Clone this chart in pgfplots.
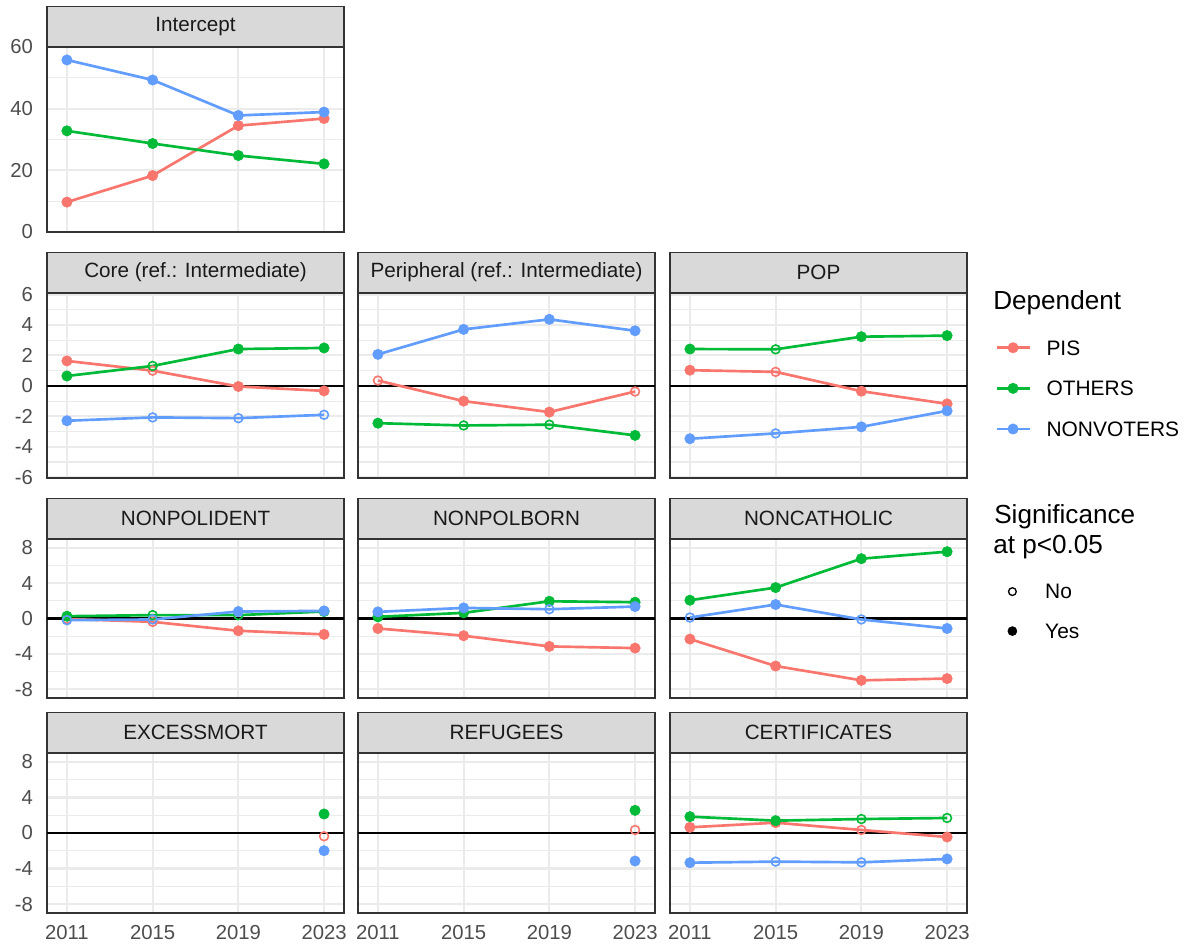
\documentclass[border=0pt]{standalone}
\usepackage{fontspec}
\setmainfont{Liberation Sans}
\usepackage{pgfplots}
\usepackage{pgfplotstable}
\pgfplotsset{compat=1.18}

\definecolor{pis}{HTML}{F8766D}
\definecolor{oth}{HTML}{00BA38}
\definecolor{nv}{HTML}{619CFF}
\definecolor{grey10}{HTML}{1A1A1A}
\definecolor{grey20}{HTML}{333333}
\definecolor{grey30}{HTML}{4D4D4D}
\definecolor{grey85}{HTML}{D9D9D9}
\definecolor{grey92}{HTML}{EBEBEB}

\newcommand{\ticfont}{\fontsize{15.2pt}{18pt}\selectfont}
\newcommand{\stripfont}{\fontsize{15.5pt}{18pt}\selectfont}
\newcommand{\legfont}{\fontsize{15.7pt}{18pt}\selectfont}
\newcommand{\legtitlefont}{\fontsize{19.6pt}{22pt}\selectfont}

% Coefficients by year; Y/N = significant at p<0.05
\pgfplotstableread{
year pis  ps oth  os nv   ns
2011 9.7  Y  32.8 Y  55.8 Y
2015 18.3 Y  28.7 Y  49.3 Y
2019 34.5 Y  24.8 Y  37.8 Y
2023 36.8 Y  22.1 Y  38.9 Y
}\tIntercept
\pgfplotstableread{
year pis   ps oth  os nv    ns
2011 1.64  Y  0.65 Y  -2.29 Y
2015 1.00  N  1.31 N  -2.07 N
2019 -0.04 Y  2.42 Y  -2.12 N
2023 -0.33 Y  2.49 Y  -1.90 N
}\tCore
\pgfplotstableread{
year pis   ps oth   os nv   ns
2011 0.35  N  -2.45 Y  2.07 Y
2015 -1.00 Y  -2.60 N  3.71 Y
2019 -1.72 Y  -2.55 N  4.37 Y
2023 -0.37 N  -3.25 Y  3.62 Y
}\tPeripheral
\pgfplotstableread{
year pis   ps oth  os nv    ns
2011 1.03  Y  2.42 Y  -3.47 Y
2015 0.92  N  2.40 N  -3.12 N
2019 -0.35 Y  3.23 Y  -2.69 Y
2023 -1.18 Y  3.30 Y  -1.64 Y
}\tPop
\pgfplotstableread{
year pis   ps oth  os nv    ns
2011 -0.05 N  0.26 Y  -0.19 N
2015 -0.38 N  0.38 N  -0.11 N
2019 -1.39 Y  0.38 N  0.79  Y
2023 -1.80 Y  0.79 Y  0.86  Y
}\tNonpolident
\pgfplotstableread{
year pis   ps oth  os nv   ns
2011 -1.13 Y  0.19 Y  0.75 Y
2015 -1.95 Y  0.64 Y  1.20 Y
2019 -3.16 Y  1.95 Y  1.05 N
2023 -3.35 Y  1.84 Y  1.35 Y
}\tNonpolborn
\pgfplotstableread{
year pis   ps oth  os nv    ns
2011 -2.33 Y  2.07 Y  0.11  N
2015 -5.38 Y  3.50 Y  1.58  Y
2019 -7.00 Y  6.77 Y  -0.11 N
2023 -6.80 Y  7.56 Y  -1.13 Y
}\tNoncatholic
\pgfplotstableread{
year pis   ps oth  os nv    ns
2023 -0.37 N  2.14 Y  -1.99 Y
}\tExcessmort
\pgfplotstableread{
year pis  ps oth  os nv    ns
2023 0.34 N  2.55 Y  -3.15 Y
}\tRefugees
\pgfplotstableread{
year pis   ps oth  os nv    ns
2011 0.64  Y  1.84 Y  -3.34 Y
2015 1.16  Y  1.39 Y  -3.22 N
2019 0.34  N  1.57 N  -3.30 N
2023 -0.45 Y  1.69 N  -2.92 Y
}\tCertificates

\pgfplotsset{
  panel/.style={
    scale only axis, width=222.75pt, anchor=south west,
    xmin=2010.07, xmax=2023.93,
    xtick={2011,2015,2019,2023}, xticklabels={},
    xmajorgrids=true, ymajorgrids=true, yminorgrids=true,
    major grid style={draw=grey92, line width=1.6pt},
    minor grid style={draw=grey92, line width=0.8pt},
    major tick length=0pt, minor tick length=0pt,
    tick style={draw=none},
    axis line style={draw=grey20, line width=1pt},
    ticklabel style={font=\ticfont, text=grey30, inner sep=0pt},
    yticklabel style={xshift=-10.3pt},
    xticklabel style={yshift=-9pt},
    every axis title shift=0pt,
    title style={at={(0.5,1)}, anchor=south, yshift=0pt,
      draw=grey20, line width=1pt, fill=grey85,
      minimum width=222.75pt, minimum height=30pt, inner sep=0pt,
      font=\stripfont, text=grey10},
  },
  zeroline/.style={
    extra y ticks={0}, extra y tick labels={},
    extra y tick style={grid=major, major grid style={draw=black, line width=1.6pt}},
  },
  rowtwo/.style={panel, zeroline, height=138.75pt, ymin=-6.05, ymax=6.1,
    ytick={-6,-4,-2,0,2,4,6}, minor ytick={-5,-3,-1,1,3,5}},
  rowlow/.style={panel, zeroline, ymin=-9, ymax=9,
    ytick={-8,-4,0,4,8}, minor ytick={-6,-2,2,6}},
  serline/.style={color=#1, line width=2pt, no marks, forget plot},
  sermark/.style={only marks, forget plot, mark size=3.9pt,
    scatter, scatter src=explicit symbolic,
    scatter/classes={
      Y={mark=*, draw=#1, fill=#1, line width=0.4pt, mark size=3.9pt},
      N={mark=o, draw=#1, line width=1.2pt, mark size=3.3pt}}},
  keylegend/.style={
    legend cell align=left,
    legend image code/.code={
      \path (0pt,0pt) (36.5pt,0pt);
      \draw[mark repeat=2, mark phase=2] plot coordinates {(0pt,0pt) (12.4pt,0pt) (24.75pt,0pt)};
    },
    legend style={draw=none, fill=none, inner sep=0pt, anchor=north west,
      font=\legfont, text=black, nodes={inner sep=0pt, text depth=0pt}},
  },
}

\newcommand{\drawseries}[1]{%
  \addplot[serline=pis] table[x=year,y=pis]{#1};
  \addplot[serline=oth] table[x=year,y=oth]{#1};
  \addplot[serline=nv] table[x=year,y=nv]{#1};
  \addplot[sermark=pis] table[x=year,y=pis,meta=ps]{#1};
  \addplot[sermark=oth] table[x=year,y=oth,meta=os]{#1};
  \addplot[sermark=nv] table[x=year,y=nv,meta=ns]{#1};
}

\begin{document}
\begin{tikzpicture}
\path[use as bounding box] (0pt,0pt) rectangle (891.75pt,-708pt);

% Row 1
\begin{axis}[panel, at={(35.25pt,-174pt)}, height=138.75pt, ymin=0, ymax=60,
  ytick={0,20,40,60}, yticklabels={0,20,40,60}, minor ytick={10,30,50},
  title={Intercept}]
\drawseries{\tIntercept}
\end{axis}

% Row 2
\begin{axis}[rowtwo, at={(35.25pt,-358.5pt)}, yticklabels={-6,-4,-2,0,2,4,6},
  title={Core (ref.: Intermediate)}]
\drawseries{\tCore}
\end{axis}
\begin{axis}[rowtwo, at={(268.5pt,-358.5pt)}, yticklabels={},
  title={Peripheral (ref.: Intermediate)}]
\drawseries{\tPeripheral}
\end{axis}
\begin{axis}[rowtwo, at={(502.5pt,-358.5pt)}, yticklabels={}, title={POP},
  keylegend, legend style={at={(1.094,0.745)}, row sep=19.5pt}]
\drawseries{\tPop}
\addlegendimage{color=pis, line width=2pt, mark=*, mark size=3.9pt, mark options={fill=pis, draw=pis, line width=0.4pt}}
\addlegendentry{PIS}
\addlegendimage{color=oth, line width=2pt, mark=*, mark size=3.9pt, mark options={fill=oth, draw=oth, line width=0.4pt}}
\addlegendentry{OTHERS}
\addlegendimage{color=nv, line width=2pt, mark=*, mark size=3.9pt, mark options={fill=nv, draw=nv, line width=0.4pt}}
\addlegendentry{NONVOTERS}
\end{axis}

% Row 3
\begin{axis}[rowlow, at={(35.25pt,-523.5pt)}, height=119.25pt,
  yticklabels={-8,-4,0,4,8}, title={NONPOLIDENT}]
\drawseries{\tNonpolident}
\end{axis}
\begin{axis}[rowlow, at={(268.5pt,-523.5pt)}, height=119.25pt,
  yticklabels={}, title={NONPOLBORN}]
\drawseries{\tNonpolborn}
\end{axis}
\begin{axis}[rowlow, at={(502.5pt,-523.5pt)}, height=119.25pt,
  yticklabels={}, title={NONCATHOLIC},
  keylegend, legend style={at={(1.094,0.716)}, row sep=18.8pt}]
\drawseries{\tNoncatholic}
\addlegendimage{only marks, mark=o, black, line width=1pt, mark size=2.9pt}
\addlegendentry{No}
\addlegendimage{only marks, mark=*, black, line width=0.4pt, mark size=3.4pt}
\addlegendentry{Yes}
\end{axis}

% Row 4
\begin{axis}[rowlow, at={(35.25pt,-684.75pt)}, height=120pt,
  yticklabels={-8,-4,0,4,8}, xticklabels={2011,2015,2019,2023},
  title={EXCESSMORT}]
\drawseries{\tExcessmort}
\end{axis}
\begin{axis}[rowlow, at={(268.5pt,-684.75pt)}, height=120pt,
  yticklabels={}, xticklabels={2011,2015,2019,2023}, title={REFUGEES}]
\drawseries{\tRefugees}
\end{axis}
\begin{axis}[rowlow, at={(502.5pt,-684.75pt)}, height=120pt,
  yticklabels={}, xticklabels={2011,2015,2019,2023}, title={CERTIFICATES}]
\drawseries{\tCertificates}
\end{axis}

% Legend titles
\node[anchor=base west, inner sep=0pt, font=\legtitlefont] at (744.75pt,-232.5pt) {Dependent};
\node[anchor=base west, inner sep=0pt, font=\legtitlefont] at (745.5pt,-392.5pt) {Significance};
\node[anchor=base west, inner sep=0pt, font=\legtitlefont] at (744.75pt,-415pt) {at p<0.05};
\end{tikzpicture}
\end{document}
